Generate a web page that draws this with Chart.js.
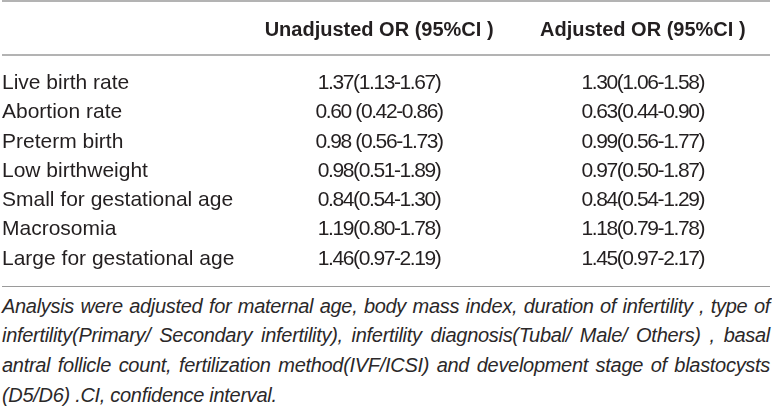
<!DOCTYPE html>
<html>
<head>
    <meta charset="UTF-8">
    <title>Odds ratios of pregnancy outcomes</title>
    <script src="https://cdn.jsdelivr.net/npm/chart.js"></script>
    <style>
        body { margin: 0; background: #ffffff; }
        #wrap { position: relative; width: 772px; height: 286px; }
        #note {
            width: 768px;
            margin: 0 0 0 2px;
            padding-top: 4.5px;
            border-top: 1.5px solid #9a9a9a;
            font: italic 20px "Liberation Sans", Arial, sans-serif;
            letter-spacing: -0.3px;
            line-height: 29.7px;
            color: #2b2829;
        }
        #note div { text-align: justify; text-align-last: justify; }
        #note div:last-child { text-align-last: left; }
    </style>
</head>
<body>
<div id="wrap"><canvas id="chart"></canvas></div>
<div id="note"></div>

<script>
    // table content
    var rowLabels = ['Live birth rate', 'Abortion rate', 'Preterm birth', 'Low birthweight',
        'Small for gestational age', 'Macrosomia', 'Large for gestational age'];
    var colHeaders = ['Unadjusted OR (95%CI )', 'Adjusted OR (95%CI )'];
    var unadjustedOR = ['1.37(1.13-1.67)', '0.60 (0.42-0.86)', '0.98 (0.56-1.73)', '0.98(0.51-1.89)',
        '0.84(0.54-1.30)', '1.19(0.80-1.78)', '1.46(0.97-2.19)'];
    var adjustedOR = ['1.30(1.06-1.58)', '0.63(0.44-0.90)', '0.99(0.56-1.77)', '0.97(0.50-1.87)',
        '0.84(0.54-1.29)', '1.18(0.79-1.78)', '1.45(0.97-2.17)'];
    var footnoteLines = [
        'Analysis were adjusted for maternal age, body mass index, duration of infertility , type of',
        'infertility(Primary/ Secondary infertility), infertility diagnosis(Tubal/ Male/ Others) , basal',
        'antral follicle count, fertilization method(IVF/ICSI) and development stage of blastocysts',
        '(D5/D6) .CI, confidence interval.'
    ];

    var FONT = '"Liberation Sans", Arial, sans-serif';
    var INK = '#231f20';

    // rules and OR cells, placed with the chart scales
    var tablePlugin = {
        id: 'tableCells',
        afterDraw: function (chart) {
            var ctx = chart.ctx;
            var xs = chart.scales.x;
            var ys = chart.scales.y;
            ctx.save();
            ctx.strokeStyle = '#9a9a9a';
            ctx.lineWidth = 1.5;
            [1, 55].forEach(function (y) {
                ctx.beginPath();
                ctx.moveTo(2, y);
                ctx.lineTo(770, y);
                ctx.stroke();
            });

            ctx.font = '21px ' + FONT;
            ctx.letterSpacing = '-1.4px';
            ctx.fillStyle = INK;
            ctx.textAlign = 'center';
            ctx.textBaseline = 'middle';
            [unadjustedOR, adjustedOR].forEach(function (col, c) {
                var x = xs.getPixelForValue(c + 1);
                for (var i = 0; i < col.length; i++) {
                    ctx.fillText(col[i], x, ys.getPixelForValue(i));
                }
            });
            ctx.restore();
        }
    };

    var ctx = document.getElementById('chart').getContext('2d');
    var chart = new Chart(ctx, {
        type: 'bar',
        data: {
            labels: rowLabels,
            datasets: []
        },
        plugins: [tablePlugin],
        options: {
            indexAxis: 'y',
            responsive: true,
            maintainAspectRatio: false,
            animation: false,
            layout: { padding: { left: 2, right: 2, top: 0, bottom: 8.6 } },
            plugins: {
                legend: { display: false },
                tooltip: { enabled: false }
            },
            scales: {
                x: {
                    type: 'linear',
                    position: 'top',
                    min: 0.48,
                    max: 2.43,
                    grid: { display: false, drawTicks: false },
                    border: { display: false },
                    afterBuildTicks: function (scale) {
                        scale.ticks = colHeaders.map(function (h, i) { return { value: i + 1 }; });
                    },
                    afterFit: function (scale) { scale.height = 68.6; },
                    ticks: {
                        autoSkip: false,
                        maxRotation: 0,
                        padding: 26,
                        color: INK,
                        font: { family: FONT, size: 20, weight: 'bold' },
                        callback: function (value, index) { return colHeaders[index]; }
                    }
                },
                y: {
                    type: 'category',
                    grid: { display: false, drawTicks: false },
                    border: { display: false },
                    afterFit: function (scale) { scale.width = 240; },
                    ticks: {
                        autoSkip: false,
                        crossAlign: 'far',
                        padding: 0,
                        color: INK,
                        font: { family: FONT, size: 21 }
                    }
                }
            }
        }
    });

    // footnote under the table
    var note = document.getElementById('note');
    footnoteLines.forEach(function (line) {
        var d = document.createElement('div');
        d.textContent = line;
        note.appendChild(d);
    });
</script>
</body>
</html>
